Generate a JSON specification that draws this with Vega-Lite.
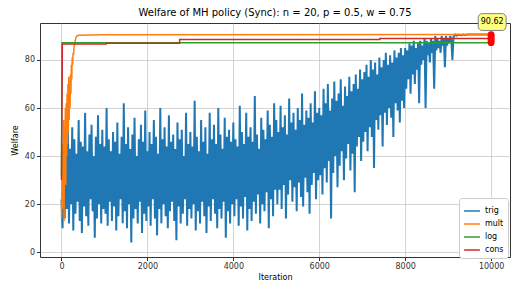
{
"$schema": "https://vega.github.io/schema/vega-lite/v6.json",
"width": 470, "height": 234,
"autosize": {"type": "none"},
"padding": {"left": 40, "top": 23, "right": 1, "bottom": 29},
"title": {"text": "Welfare of MH policy (Sync): n = 20, p = 0.5, w = 0.75", "fontSize": 10, "fontWeight": "normal", "offset": -5, "anchor": "middle", "color": "#000"},
"config": {
  "font": "DejaVu Sans",
  "view": {"stroke": "#333", "strokeWidth": 1},
  "axis": {"grid": true, "gridColor": "#b0b0b0", "gridOpacity": 0.55, "gridWidth": 1, "domain": false, "tickColor": "#333", "tickSize": 3.5, "labelFontSize": 8, "labelColor": "#333", "titleFontSize": 8, "titleFontWeight": "normal", "titleColor": "#000", "labelPadding": 2},
  "legend": {"orient": "none", "legendX": 419, "legendY": 175, "symbolType": "stroke", "symbolSize": 250, "symbolStrokeWidth": 1.5, "labelFontSize": 8, "labelColor": "#000", "rowPadding": 0, "padding": 4, "strokeColor": "#ccc", "fillColor": "white", "cornerRadius": 3}
},
"datasets": {
  "trig": [
{"x":0,"y":22},{"x":25,"y":10},{"x":50,"y":40},{"x":75,"y":14},{"x":100,"y":45},{"x":125,"y":18},{"x":150,"y":50},{"x":175,"y":12},{"x":200,"y":43},{"x":225,"y":20},{"x":250,"y":52},{"x":275,"y":9},{"x":300,"y":47},{"x":325,"y":16},{"x":350,"y":41},{"x":375,"y":21},{"x":400,"y":55},{"x":425,"y":13},{"x":450,"y":46},{"x":475,"y":8},{"x":500,"y":44},{"x":525,"y":19},{"x":550,"y":58},{"x":575,"y":15},{"x":600,"y":42},{"x":625,"y":11},{"x":650,"y":49},{"x":675,"y":22},{"x":700,"y":53},{"x":725,"y":17},{"x":750,"y":40},{"x":775,"y":6},{"x":800,"y":48},{"x":825,"y":14},{"x":850,"y":57},{"x":875,"y":20},{"x":900,"y":45},{"x":925,"y":12},{"x":950,"y":51},{"x":975,"y":18},
{"x":1000,"y":44},{"x":1025,"y":16},{"x":1050,"y":60},{"x":1075,"y":11},{"x":1100,"y":47},{"x":1125,"y":21},{"x":1150,"y":42},{"x":1175,"y":13},{"x":1200,"y":50},{"x":1225,"y":19},{"x":1250,"y":46},{"x":1275,"y":9},{"x":1300,"y":54},{"x":1325,"y":15},{"x":1350,"y":41},{"x":1375,"y":22},{"x":1400,"y":48},{"x":1425,"y":12},{"x":1450,"y":62},{"x":1475,"y":17},{"x":1500,"y":45},{"x":1525,"y":10},{"x":1550,"y":52},{"x":1575,"y":20},{"x":1600,"y":43},{"x":1625,"y":4},{"x":1650,"y":49},{"x":1675,"y":14},{"x":1700,"y":56},{"x":1725,"y":18},{"x":1750,"y":40},{"x":1775,"y":12},{"x":1800,"y":47},{"x":1825,"y":21},{"x":1850,"y":53},{"x":1875,"y":8},{"x":1900,"y":46},{"x":1925,"y":16},{"x":1950,"y":59},{"x":1975,"y":13},
{"x":2000,"y":42},{"x":2025,"y":19},{"x":2050,"y":50},{"x":2075,"y":11},{"x":2100,"y":45},{"x":2125,"y":22},{"x":2150,"y":55},{"x":2175,"y":14},{"x":2200,"y":48},{"x":2225,"y":7},{"x":2250,"y":41},{"x":2275,"y":18},{"x":2300,"y":60},{"x":2325,"y":12},{"x":2350,"y":47},{"x":2375,"y":20},{"x":2400,"y":52},{"x":2425,"y":15},{"x":2450,"y":44},{"x":2475,"y":10},{"x":2500,"y":57},{"x":2525,"y":17},{"x":2550,"y":46},{"x":2575,"y":21},{"x":2600,"y":49},{"x":2625,"y":13},{"x":2650,"y":43},{"x":2675,"y":5},{"x":2700,"y":54},{"x":2725,"y":19},{"x":2750,"y":47},{"x":2775,"y":12},{"x":2800,"y":51},{"x":2825,"y":16},{"x":2850,"y":40},{"x":2875,"y":22},{"x":2900,"y":58},{"x":2925,"y":11},{"x":2950,"y":45},{"x":2975,"y":18},
{"x":3000,"y":50},{"x":3025,"y":14},{"x":3050,"y":44},{"x":3075,"y":20},{"x":3100,"y":63},{"x":3125,"y":9},{"x":3150,"y":48},{"x":3175,"y":17},{"x":3200,"y":42},{"x":3225,"y":12},{"x":3250,"y":55},{"x":3275,"y":21},{"x":3300,"y":46},{"x":3325,"y":15},{"x":3350,"y":52},{"x":3375,"y":8},{"x":3400,"y":41},{"x":3425,"y":19},{"x":3450,"y":58},{"x":3475,"y":13},{"x":3500,"y":47},{"x":3525,"y":22},{"x":3550,"y":53},{"x":3575,"y":16},{"x":3600,"y":45},{"x":3625,"y":10},{"x":3650,"y":60},{"x":3675,"y":18},{"x":3700,"y":49},{"x":3725,"y":14},{"x":3750,"y":43},{"x":3775,"y":21},{"x":3800,"y":56},{"x":3825,"y":6},{"x":3850,"y":48},{"x":3875,"y":17},{"x":3900,"y":51},{"x":3925,"y":12},{"x":3950,"y":46},{"x":3975,"y":20},
{"x":4000,"y":54},{"x":4025,"y":15},{"x":4050,"y":47},{"x":4075,"y":22},{"x":4100,"y":44},{"x":4125,"y":11},{"x":4150,"y":61},{"x":4175,"y":19},{"x":4200,"y":50},{"x":4225,"y":14},{"x":4250,"y":45},{"x":4275,"y":23},{"x":4300,"y":58},{"x":4325,"y":9},{"x":4350,"y":48},{"x":4375,"y":18},{"x":4400,"y":52},{"x":4425,"y":13},{"x":4450,"y":46},{"x":4475,"y":21},{"x":4500,"y":65},{"x":4525,"y":16},{"x":4550,"y":49},{"x":4575,"y":24},{"x":4600,"y":43},{"x":4625,"y":12},{"x":4650,"y":56},{"x":4675,"y":20},{"x":4700,"y":51},{"x":4725,"y":17},{"x":4750,"y":47},{"x":4775,"y":25},{"x":4800,"y":59},{"x":4825,"y":10},{"x":4850,"y":53},{"x":4875,"y":22},{"x":4900,"y":48},{"x":4925,"y":15},{"x":4950,"y":62},{"x":4975,"y":26},
{"x":5000,"y":55},{"x":5025,"y":20},{"x":5050,"y":50},{"x":5075,"y":26},{"x":5100,"y":61},{"x":5125,"y":18},{"x":5150,"y":52},{"x":5175,"y":28},{"x":5200,"y":57},{"x":5225,"y":14},{"x":5250,"y":49},{"x":5275,"y":24},{"x":5300,"y":64},{"x":5325,"y":30},{"x":5350,"y":54},{"x":5375,"y":21},{"x":5400,"y":58},{"x":5425,"y":27},{"x":5450,"y":51},{"x":5475,"y":17},{"x":5500,"y":60},{"x":5525,"y":29},{"x":5550,"y":55},{"x":5575,"y":23},{"x":5600,"y":66},{"x":5625,"y":19},{"x":5650,"y":53},{"x":5675,"y":31},{"x":5700,"y":59},{"x":5725,"y":25},{"x":5750,"y":56},{"x":5775,"y":16},{"x":5800,"y":62},{"x":5825,"y":28},{"x":5850,"y":54},{"x":5875,"y":33},{"x":5900,"y":67},{"x":5925,"y":22},{"x":5950,"y":58},{"x":5975,"y":30},
{"x":6000,"y":60},{"x":6025,"y":32},{"x":6050,"y":57},{"x":6075,"y":24},{"x":6100,"y":68},{"x":6125,"y":35},{"x":6150,"y":62},{"x":6175,"y":29},{"x":6200,"y":70},{"x":6225,"y":38},{"x":6250,"y":59},{"x":6275,"y":14},{"x":6300,"y":64},{"x":6325,"y":33},{"x":6350,"y":71},{"x":6375,"y":40},{"x":6400,"y":63},{"x":6425,"y":27},{"x":6450,"y":66},{"x":6475,"y":36},{"x":6500,"y":72},{"x":6525,"y":42},{"x":6550,"y":61},{"x":6575,"y":30},{"x":6600,"y":69},{"x":6625,"y":39},{"x":6650,"y":65},{"x":6675,"y":45},{"x":6700,"y":73},{"x":6725,"y":34},{"x":6750,"y":67},{"x":6775,"y":41},{"x":6800,"y":70},{"x":6825,"y":25},{"x":6850,"y":74},{"x":6875,"y":44},{"x":6900,"y":68},{"x":6925,"y":48},{"x":6950,"y":76},{"x":6975,"y":38},
{"x":7000,"y":72},{"x":7025,"y":46},{"x":7050,"y":75},{"x":7075,"y":50},{"x":7100,"y":78},{"x":7125,"y":42},{"x":7150,"y":73},{"x":7175,"y":52},{"x":7200,"y":80},{"x":7225,"y":48},{"x":7250,"y":76},{"x":7275,"y":35},{"x":7300,"y":79},{"x":7325,"y":55},{"x":7350,"y":74},{"x":7375,"y":51},{"x":7400,"y":81},{"x":7425,"y":57},{"x":7450,"y":77},{"x":7475,"y":44},{"x":7500,"y":80},{"x":7525,"y":58},{"x":7550,"y":83},{"x":7575,"y":53},{"x":7600,"y":78},{"x":7625,"y":60},{"x":7650,"y":82},{"x":7675,"y":56},{"x":7700,"y":79},{"x":7725,"y":48},{"x":7750,"y":84},{"x":7775,"y":62},{"x":7800,"y":81},{"x":7825,"y":59},{"x":7850,"y":83},{"x":7875,"y":54},{"x":7900,"y":85},{"x":7925,"y":63},{"x":7950,"y":82},{"x":7975,"y":60},
{"x":8000,"y":85},{"x":8025,"y":68},{"x":8050,"y":84},{"x":8075,"y":72},{"x":8100,"y":87},{"x":8125,"y":66},{"x":8150,"y":86},{"x":8175,"y":74},{"x":8200,"y":88},{"x":8225,"y":70},{"x":8250,"y":85},{"x":8275,"y":76},{"x":8300,"y":87},{"x":8325,"y":62},{"x":8350,"y":88},{"x":8375,"y":78},{"x":8400,"y":86},{"x":8425,"y":80},{"x":8450,"y":89},{"x":8475,"y":60},{"x":8500,"y":88},{"x":8525,"y":82},{"x":8550,"y":87},{"x":8575,"y":79},{"x":8600,"y":89},{"x":8625,"y":83},{"x":8650,"y":88},{"x":8675,"y":68},{"x":8700,"y":90},{"x":8725,"y":84},{"x":8750,"y":89},{"x":8775,"y":85},{"x":8800,"y":88},{"x":8825,"y":83},{"x":8850,"y":90},{"x":8875,"y":86},{"x":8900,"y":89},{"x":8925,"y":77},{"x":8950,"y":90},{"x":8975,"y":86},
{"x":9000,"y":89},{"x":9025,"y":87},{"x":9050,"y":90},{"x":9075,"y":88},{"x":9100,"y":80},{"x":9125,"y":89.8},{"x":9150,"y":90.1},{"x":9175,"y":90.6},{"x":9200,"y":90.2},{"x":9250,"y":90.6},{"x":9300,"y":90.3},{"x":9350,"y":90.6},{"x":9400,"y":90.4},{"x":9450,"y":90.6},{"x":9500,"y":90.62},{"x":10000,"y":90.62}
  ],
  "mult": [
{"x":0,"y":14},{"x":10,"y":30},{"x":20,"y":18},{"x":30,"y":45},{"x":40,"y":22},{"x":50,"y":55},{"x":60,"y":13},{"x":70,"y":50},{"x":80,"y":35},{"x":90,"y":60},{"x":100,"y":28},{"x":110,"y":62},{"x":120,"y":40},{"x":130,"y":66},{"x":140,"y":45},{"x":150,"y":70},{"x":160,"y":50},{"x":170,"y":73},{"x":180,"y":55},{"x":190,"y":71},{"x":200,"y":60},{"x":210,"y":74},{"x":220,"y":66},{"x":230,"y":78},{"x":240,"y":72},{"x":250,"y":81},{"x":260,"y":78},{"x":270,"y":83},{"x":280,"y":82},{"x":290,"y":85},{"x":300,"y":86},{"x":320,"y":88},{"x":340,"y":89.5},{"x":360,"y":90.0},{"x":400,"y":90.3},{"x":1000,"y":90.5},{"x":10000,"y":90.62}
  ],
  "log": [
{"x":0,"y":32},{"x":15,"y":87.2},{"x":10000,"y":87.2}
  ],
  "cons": [
{"x":0,"y":30},{"x":10,"y":60},{"x":20,"y":86.7},{"x":1039,"y":86.7},{"x":1040,"y":87.0},{"x":2749,"y":87.0},{"x":2750,"y":88.5},{"x":7409,"y":88.5},{"x":7410,"y":88.9},{"x":10000,"y":88.9}
  ],
  "dots": [
{"x":10000,"y":90.62},{"x":10000,"y":90.1},{"x":10000,"y":89.6},{"x":10000,"y":88.9},{"x":10000,"y":88.4},{"x":10000,"y":87.8},{"x":10000,"y":87.2}
  ],
  "note": [
{"x":9700,"x2":10350,"y":92.3,"y2":99.3,"xt":10025,"yt":95.8,"label":"90.62"}
  ]
},
"encoding": {
  "x": {"field": "x", "type": "quantitative", "scale": {"domain": [-500, 10440], "nice": false, "zero": false}, "axis": {"values": [0,2000,4000,6000,8000,10000], "format": "d", "title": "Iteration", "titlePadding": 3}},
  "y": {"field": "y", "type": "quantitative", "scale": {"domain": [-2, 95.4], "nice": false, "zero": false}, "axis": {"values": [0,20,40,60,80], "format": "d", "title": "Welfare", "titlePadding": 5}}
},
"layer": [
  {"data": {"name": "trig"}, "mark": {"type": "line", "strokeWidth": 2, "interpolate": "linear"}, "encoding": {"color": {"datum": "trig", "scale": {"domain": ["trig","mult","log","cons"], "range": ["#1f77b4","#ff7f0e","#2ca02c","#d62728"]}, "legend": {"title": null}}}},
  {"data": {"name": "mult"}, "mark": {"type": "line", "strokeWidth": 1.5}, "encoding": {"color": {"datum": "mult"}}},
  {"data": {"name": "log"}, "mark": {"type": "line", "strokeWidth": 1.5}, "encoding": {"color": {"datum": "log"}}},
  {"data": {"name": "cons"}, "mark": {"type": "line", "strokeWidth": 1.5}, "encoding": {"color": {"datum": "cons"}}},
  {"data": {"name": "dots"}, "mark": {"type": "point", "filled": true, "size": 45, "color": "#ff0000", "opacity": 1}},
  {"data": {"name": "note"}, "mark": {"type": "rect", "cornerRadius": 4, "fill": "#ffff80", "stroke": "#808080", "strokeWidth": 1},
   "encoding": {"x2": {"field": "x2"}, "y2": {"field": "y2"}}},
  {"data": {"name": "note"}, "mark": {"type": "text", "fontSize": 8, "color": "#000", "align": "center", "baseline": "middle"},
   "encoding": {"x": {"field": "xt", "type": "quantitative"}, "y": {"field": "yt", "type": "quantitative"}, "text": {"field": "label"}}}
]
}
